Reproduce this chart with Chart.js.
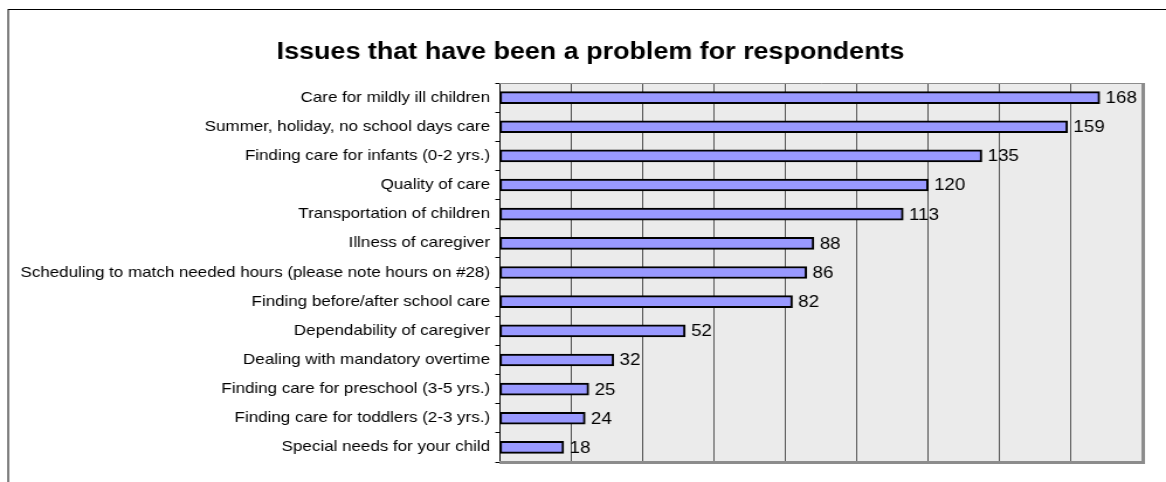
<!DOCTYPE html>
<html lang="en">
<head>
<meta charset="UTF-8">
<title>Issues that have been a problem for respondents</title>
<script src="https://cdn.jsdelivr.net/npm/chart.js@4.4.1/dist/chart.umd.min.js"></script>
<style>
	html, body { margin: 0; padding: 0; background: #fff; overflow: hidden; }
	/* the original picture is a little wider than its text, so stretch it sideways */
	#wrap { width: 997px; height: 482px; transform: scaleX(1.1695); transform-origin: 0 0; }
	#issues { display: block; }
</style>
</head>
<body>
<div id="wrap"><canvas id="issues" width="997" height="482"></canvas></div>
<script>
	// data
	var chartTitle = 'Issues that have been a problem for respondents';
	var issueLabels = [
		"Care for mildly ill children",
		"Summer, holiday, no school days care",
		"Finding care for infants (0-2 yrs.)",
		"Quality of care",
		"Transportation of children",
		"Illness of caregiver",
		"Scheduling to match needed hours (please note hours on #28)",
		"Finding before/after school care",
		"Dependability of caregiver",
		"Dealing with mandatory overtime",
		"Finding care for preschool (3-5 yrs.)",
		"Finding care for toddlers (2-3 yrs.)",
		"Special needs for your child"
	];
	var issueCounts = [168, 159, 135, 120, 113, 88, 86, 82, 52, 32, 25, 24, 18];
	var axisMax = 180;
	var axisStep = 20;

	var FONT = "'Liberation Sans', Arial, sans-serif";

	// grey plot background, outer frame and the title (centred a bit right of the canvas middle)
	var plotBackground = {
		id: 'plotBackground',
		beforeDraw: function (chart) {
			var ctx = chart.ctx, a = chart.chartArea;
			ctx.save();
			ctx.fillStyle = '#ffffff';
			ctx.fillRect(0, 0, chart.width, chart.height);
			ctx.strokeStyle = '#000000';
			ctx.lineWidth = 1;
			ctx.strokeRect(7, 9.5, chart.width + 10, chart.height + 10);
			ctx.fillStyle = '#ebebeb';
			ctx.fillRect(a.left, a.top, a.right - a.left, a.bottom - a.top);
			ctx.fillStyle = '#000';
			ctx.font = 'bold 23px ' + FONT;
			ctx.textAlign = 'center';
			ctx.textBaseline = 'middle';
			ctx.fillText(chartTitle, 505, 53);
			ctx.restore();
		},
		beforeDatasetsDraw: function (chart) {
			var ctx = chart.ctx, a = chart.chartArea;
			ctx.save();
			ctx.strokeStyle = '#8c8c8c';
			ctx.lineWidth = 1;
			ctx.beginPath();
			ctx.moveTo(a.left, a.top + 0.5);
			ctx.lineTo(a.right + 0.5, a.top + 0.5);
			ctx.stroke();
			ctx.lineWidth = 3;
			ctx.beginPath();
			ctx.moveTo(a.right + 0.5, a.top);
			ctx.lineTo(a.right + 0.5, a.bottom + 0.5);
			ctx.lineTo(a.left, a.bottom + 0.5);
			ctx.stroke();
			ctx.restore();
		}
	};

	// value next to the end of each bar
	var barValues = {
		id: 'barValues',
		afterDatasetsDraw: function (chart) {
			var ctx = chart.ctx;
			var meta = chart.getDatasetMeta(0);
			ctx.save();
			ctx.fillStyle = '#000';
			ctx.font = '16px ' + FONT;
			ctx.textAlign = 'left';
			ctx.textBaseline = 'middle';
			meta.data.forEach(function (bar, i) {
				ctx.fillText(String(issueCounts[i]), bar.x + 5, bar.y + 1);
			});
			ctx.restore();
		}
	};

	new Chart(document.getElementById('issues'), {
		type: 'bar',
		data: {
			labels: issueLabels,
			datasets: [{
				data: issueCounts,
				backgroundColor: '#9999ff',
				borderColor: '#000000',
				borderWidth: 2,
				borderSkipped: false,
				barThickness: 12
			}]
		},
		options: {
			indexAxis: 'y',
			responsive: false,
			animation: false,
			devicePixelRatio: 1,
			events: [],
			layout: { padding: { left: 0, right: 20, top: 83, bottom: 20 } },
			plugins: {
				legend: { display: false },
				tooltip: { enabled: false },
				title: { display: false }
			},
			scales: {
				x: {
					min: 0,
					max: axisMax,
					ticks: { display: false, stepSize: axisStep },
					grid: { color: '#555555', lineWidth: 1, drawTicks: false },
					border: { display: false }
				},
				y: {
					afterFit: function (scale) { scale.width = 427; },
					ticks: {
						color: '#000',
						padding: 4.5,
						font: { family: FONT, size: 14.5 }
					},
					grid: {
						offset: true,
						drawOnChartArea: false,
						tickLength: 3.5,
						tickColor: '#000'
					},
					border: { color: '#000', width: 1 }
				}
			}
		},
		plugins: [plotBackground, barValues]
	});
</script>
</body>
</html>
